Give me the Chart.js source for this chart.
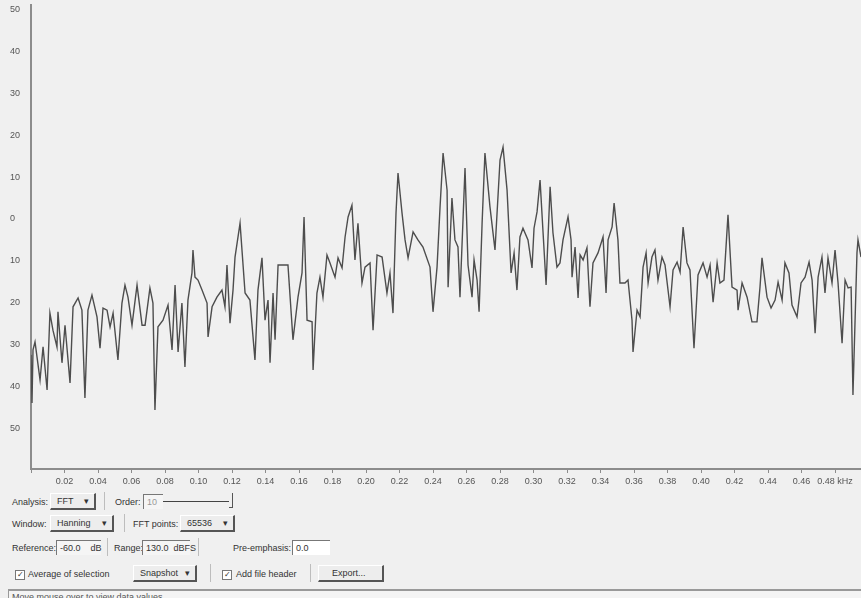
<!DOCTYPE html>
<html>
<head>
<meta charset="utf-8">
<script src="https://cdn.jsdelivr.net/npm/chart.js@4.4.1/dist/chart.umd.min.js"></script>
<style>
  html, body { margin: 0; padding: 0; background: #f0f0f0; }
  body { width: 861px; height: 598px; position: relative; overflow: hidden;
         font: 9px "Liberation Sans", Arial, sans-serif; color: #333; }
  #plot { position: absolute; left: 0; top: 0; width: 861px; height: 492px; }
  .ctl { position: absolute; white-space: nowrap; line-height: 12px; }
  .drop { position: absolute; height: 17px; line-height: 15px; padding-left: 6px; box-sizing: border-box;
          border-top: 1px solid #fff; border-left: 1px solid #fff;
          border-right: 2px solid #555; border-bottom: 2px solid #555; background: #ededed; }
  .drop b { position: absolute; right: 5px; top: 0; font-weight: normal; }
  .field { position: absolute; height: 15px; line-height: 14px; padding-left: 3px; box-sizing: border-box;
           border-top: 1px solid #777; border-left: 1px solid #777; background: #f5f5f5; }
  .sep { position: absolute; width: 1px; height: 18px; background: #bdbdbd; }
  .chk { position: absolute; width: 8px; height: 8px; border: 1px solid #777; background: #fff;
         font-size: 8px; line-height: 8px; text-align: center; }
</style>
</head>
<body>
<div id="plot"><canvas id="spectrum"></canvas></div>

<div class="ctl" style="left:12px;top:496px">Analysis:</div>
<div class="drop" style="left:50px;top:493px;width:46px">FFT<b>&#9662;</b></div>
<div class="sep" style="left:104px;top:492px"></div>
<div class="ctl" style="left:115px;top:496px">Order:</div>
<div class="field" style="left:143px;top:494px;width:20px;color:#999">10</div>
<div style="position:absolute;left:163px;top:501px;width:66px;height:1px;background:#444"></div>
<div style="position:absolute;left:229px;top:493px;width:3px;height:14px;border-right:1px solid #555;border-bottom:1px solid #555"></div>

<div class="ctl" style="left:12px;top:518px">Window:</div>
<div class="drop" style="left:50px;top:515px;width:64px">Hanning<b>&#9662;</b></div>
<div class="sep" style="left:124px;top:514px"></div>
<div class="ctl" style="left:133px;top:518px">FFT points:</div>
<div class="drop" style="left:180px;top:515px;width:55px">65536<b>&#9662;</b></div>

<div class="ctl" style="left:12px;top:542px">Reference:</div>
<div class="field" style="left:56px;top:540px;width:45px">-60.0<span style="margin-left:10px">dB</span></div>
<div class="sep" style="left:107px;top:538px"></div>
<div class="ctl" style="left:114px;top:542px">Range:</div>
<div class="field" style="left:142px;top:540px;width:48px">130.0<span style="margin-left:5px">dBFS</span></div>
<div class="sep" style="left:198px;top:538px"></div>
<div class="ctl" style="left:233px;top:542px">Pre-emphasis:</div>
<div class="field" style="left:292px;top:540px;width:38px;background:#fff">0.0</div>

<div class="chk" style="left:15px;top:570px">&#10003;</div>
<div class="ctl" style="left:28px;top:568px">Average of selection</div>
<div class="drop" style="left:133px;top:565px;width:64px">Snapshot<b>&#9662;</b></div>
<div class="sep" style="left:210px;top:564px"></div>
<div class="chk" style="left:222px;top:570px">&#10003;</div>
<div class="ctl" style="left:236px;top:568px">Add file header</div>
<div class="sep" style="left:310px;top:564px"></div>
<div class="drop" style="left:318px;top:565px;width:66px;padding-left:13px">Export...</div>

<div style="position:absolute;left:8px;top:589px;width:853px;height:12px;border-top:2px solid #999;border-left:1px solid #999;background:#f4f4f4"></div>
<div class="ctl" style="left:12px;top:591px;color:#555">Move mouse over to view data values</div>

<script>
// spectrum trace: frequency (kHz) and level (dB)
const freqKHz = [
  0.0000, 0.0006, 0.0012, 0.0024, 0.0054, 0.0072, 0.0096, 0.0113, 0.0131, 0.0155,
  0.0161, 0.0185, 0.0203, 0.0233, 0.0251, 0.0281, 0.0304, 0.0322, 0.0340, 0.0364,
  0.0394, 0.0412, 0.0430, 0.0454, 0.0472, 0.0490, 0.0519, 0.0543, 0.0561, 0.0579,
  0.0603, 0.0633, 0.0663, 0.0681, 0.0710, 0.0728, 0.0740, 0.0758, 0.0788, 0.0818,
  0.0842, 0.0860, 0.0878, 0.0901, 0.0919, 0.0937, 0.0961, 0.0967, 0.0979, 0.0997,
  0.1021, 0.1051, 0.1057, 0.1081, 0.1110, 0.1140, 0.1158, 0.1170, 0.1188, 0.1206,
  0.1218, 0.1248, 0.1278, 0.1307, 0.1337, 0.1355, 0.1379, 0.1397, 0.1415, 0.1427,
  0.1445, 0.1457, 0.1475, 0.1534, 0.1564, 0.1594, 0.1618, 0.1630, 0.1648, 0.1678,
  0.1684, 0.1707, 0.1725, 0.1743, 0.1767, 0.1785, 0.1815, 0.1833, 0.1857, 0.1875,
  0.1893, 0.1916, 0.1934, 0.1952, 0.1976, 0.1994, 0.2024, 0.2042, 0.2066, 0.2096,
  0.2125, 0.2143, 0.2161, 0.2179, 0.2191, 0.2215, 0.2233, 0.2251, 0.2281, 0.2310,
  0.2340, 0.2382, 0.2400, 0.2424, 0.2442, 0.2460, 0.2484, 0.2490, 0.2513, 0.2531,
  0.2549, 0.2561, 0.2591, 0.2609, 0.2633, 0.2645, 0.2663, 0.2675, 0.2693, 0.2710,
  0.2740, 0.2770, 0.2800, 0.2818, 0.2842, 0.2866, 0.2884, 0.2901, 0.2919, 0.2937,
  0.2967, 0.2991, 0.3003, 0.3021, 0.3039, 0.3057, 0.3075, 0.3099, 0.3116, 0.3140,
  0.3158, 0.3176, 0.3206, 0.3224, 0.3230, 0.3248, 0.3266, 0.3278, 0.3296, 0.3319,
  0.3337, 0.3355, 0.3385, 0.3415, 0.3433, 0.3445, 0.3469, 0.3481, 0.3504, 0.3516,
  0.3546, 0.3564, 0.3588, 0.3594, 0.3618, 0.3636, 0.3654, 0.3672, 0.3684, 0.3707,
  0.3725, 0.3743, 0.3767, 0.3785, 0.3815, 0.3833, 0.3857, 0.3875, 0.3893, 0.3916,
  0.3934, 0.3958, 0.3982, 0.4012, 0.4036, 0.4054, 0.4072, 0.4096, 0.4113, 0.4137,
  0.4161, 0.4185, 0.4215, 0.4221, 0.4245, 0.4275, 0.4304, 0.4334, 0.4352, 0.4364,
  0.4394, 0.4418, 0.4442, 0.4460, 0.4484, 0.4501, 0.4525, 0.4543, 0.4573, 0.4597,
  0.4621, 0.4645, 0.4663, 0.4681, 0.4699, 0.4722, 0.4740, 0.4758, 0.4782, 0.4800,
  0.4818, 0.4842, 0.4860, 0.4878, 0.4896, 0.4907, 0.4931, 0.4937, 0.4955
];
const levelDb = [
  -32.5, -44.0, -31.3, -29.4, -38.5, -30.6, -40.9, -22.5, -26.6, -30.6,
  -22.2, -34.4, -25.4, -39.2, -21.0, -18.9, -21.8, -42.8, -21.8, -18.2,
  -23.4, -30.9, -21.3, -21.8, -25.8, -22.5, -33.7, -20.1, -15.8, -18.7,
  -25.4, -15.8, -25.4, -25.4, -16.5, -20.1, -45.7, -25.8, -24.2, -20.6,
  -31.3, -15.8, -31.8, -20.1, -35.4, -19.4, -12.9, -7.4, -13.9, -14.6,
  -17.0, -20.1, -28.2, -21.0, -18.7, -17.0, -21.0, -11.0, -24.9, -17.0,
  -9.1, -1.0, -17.7, -19.4, -33.7, -17.0, -9.3, -24.2, -19.4, -34.4,
  -17.7, -28.9, -11.0, -11.0, -28.9, -18.7, -12.9, 0.5, -24.2, -24.6,
  -36.1, -17.7, -13.9, -18.7, -8.6, -10.5, -13.9, -9.3, -11.7, -4.3,
  0.5, 3.3, -9.8, -1.0, -15.3, -11.5, -10.5, -26.6, -8.6, -9.1,
  -17.7, -12.9, -22.5, 1.4, 11.0, 1.4, -5.0, -9.3, -3.1, -5.0,
  -6.7, -11.5, -22.2, -11.5, 2.9, 15.8, 6.9, -16.3, 5.0, -5.0,
  -6.7, -18.7, 12.2, -11.0, -18.7, -9.8, -14.6, -22.2, -1.0, 15.8,
  2.9, -7.4, 14.1, 17.2, 6.9, -12.9, -8.1, -17.0, -4.3, -2.2,
  -5.0, -11.7, -2.2, 1.7, 9.3, -3.3, -15.8, 7.7, -3.3, -11.5,
  -10.5, -5.0, 0.5, -5.0, -13.9, -6.7, -18.9, -8.6, -9.8, -6.9,
  -21.0, -10.5, -8.1, -4.3, -17.7, -5.0, -1.9, 3.8, -5.0, -15.3,
  -15.3, -14.6, -24.2, -31.8, -21.8, -23.4, -11.5, -8.1, -15.3, -9.1,
  -7.4, -14.6, -9.1, -11.0, -21.0, -12.2, -10.3, -12.7, -1.9, -10.5,
  -12.2, -30.9, -13.4, -10.5, -13.9, -11.0, -19.9, -10.5, -15.3, -14.6,
  1.0, -16.3, -17.0, -21.8, -15.3, -18.7, -24.6, -24.6, -16.3, -9.3,
  -18.7, -21.3, -19.4, -15.1, -19.4, -10.5, -12.9, -20.6, -23.4, -15.3,
  -13.9, -10.3, -14.6, -27.3, -13.9, -9.1, -17.7, -9.3, -15.3, -7.4,
  -15.3, -29.7, -14.6, -16.5, -16.3, -42.1, -8.1, -5.0, -9.1
];

// axis limits and tick spacing
const freqRange = [0, 0.4955];
const dbRange = [-59.8, 51.1];
const freqStep = 0.02;
const dbStep = 10;

const points = freqKHz.map((f, i) => ({ x: f, y: levelDb[i] }));

new Chart(document.getElementById("spectrum"), {
  type: "line",
  data: {
    datasets: [{
      data: points,
      borderColor: "#4d4d4d",
      borderWidth: 1.4,
      pointRadius: 0,
      tension: 0,
      fill: false
    }]
  },
  options: {
    responsive: true,
    maintainAspectRatio: false,
    animation: false,
    layout: { padding: { left: 10 } },
    plugins: { legend: { display: false }, tooltip: { enabled: false } },
    scales: {
      x: {
        type: "linear",
        min: freqRange[0],
        max: freqRange[1],
        afterFit: s => { s.height = 23; },
        border: { color: "#8c8c8c", width: 2 },
        grid: { drawOnChartArea: false, color: "#8c8c8c", tickLength: 4 },
        ticks: {
          stepSize: freqStep,
          includeBounds: false,
          maxRotation: 0,
          autoSkip: false,
          padding: 3,
          color: "#555",
          font: { family: "Liberation Sans", size: 9 },
          callback: v => {
            if (v < 0.01) return "";
            const t = v.toFixed(2);
            return t === "0.48" ? "0.48 kHz" : t;
          }
        }
      },
      y: {
        min: dbRange[0],
        max: dbRange[1],
        afterFit: s => { s.width = 21; },
        border: { color: "#8c8c8c", width: 2 },
        grid: { display: false, drawTicks: false },
        ticks: {
          stepSize: dbStep,
          includeBounds: false,
          padding: 0,
          crossAlign: "far",
          color: "#555",
          font: { family: "Liberation Sans", size: 9 },
          callback: v => String(Math.abs(Math.round(v)))
        }
      }
    }
  }
});
</script>
</body>
</html>
